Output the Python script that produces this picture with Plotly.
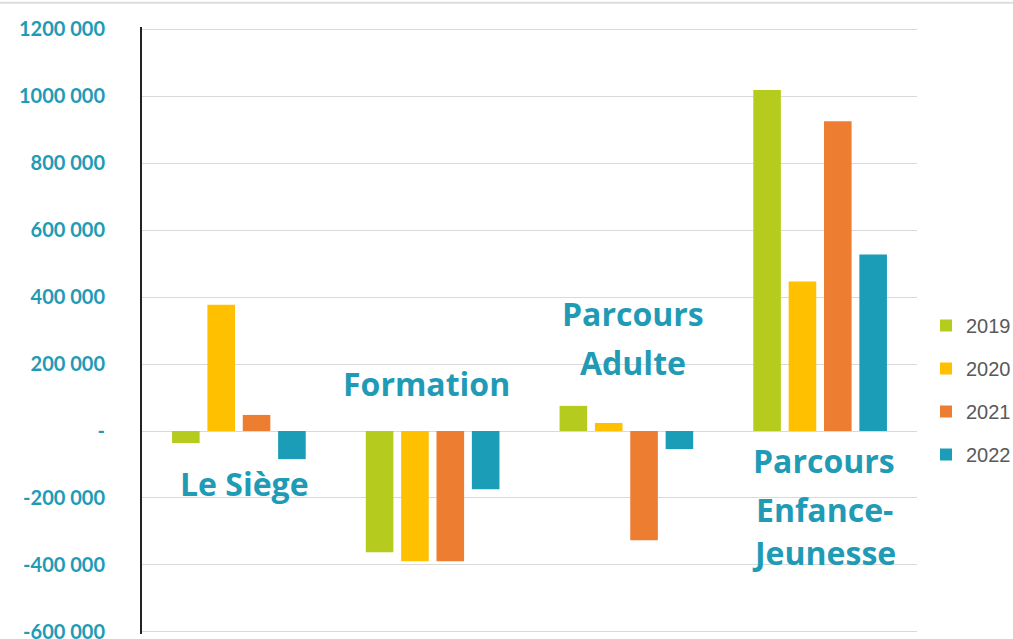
import plotly.graph_objects as go

categories = ["Le Siège", "Formation", "Parcours Adulte", "Parcours Enfance-Jeunesse"]
years = ["2019", "2020", "2021", "2022"]
values_2019 = [-36000, -362000, 75000, 1018000]
values_2020 = [377000, -389000, 24000, 446000]
values_2021 = [48000, -389000, -326000, 925000]
values_2022 = [-84000, -174000, -54000, 527000]
colors = ["#B5CC1F", "#FFC000", "#ED7D31", "#1B9CB7"]

tick_vals = [-600000, -400000, -200000, 0, 200000, 400000, 600000, 800000, 1000000, 1200000]
tick_text = ["-600 000", "-400 000", "-200 000", "-", "200 000", "400 000", "600 000", "800 000", "1000 000", "1200 000"]

# category label lines: (category, line text, y value)
label_lines = [
    ("Le Siège", "Le Siège", -156000),
    ("Formation", "Formation", 141000),
    ("Parcours Adulte", "Parcours", 350000),
    ("Parcours Adulte", "Adulte", 204000),
    ("Parcours Enfance-Jeunesse", "Parcours", -87000),
    ("Parcours Enfance-Jeunesse", "Enfance-", -234000),
    ("Parcours Enfance-Jeunesse", "Jeunesse", -362000),
]
label_xshift = {"Le Siège": 6, "Formation": -6, "Parcours Adulte": 7, "Parcours Enfance-Jeunesse": 4}

teal = "#1F9BB6"

fig = go.Figure()
series = [values_2019, values_2020, values_2021, values_2022]
for i, (yr, vals) in enumerate(zip(years, series)):
    fig.add_trace(go.Bar(
        x=categories, y=vals, name=yr,
        marker=dict(color=colors[i], line=dict(width=0)),
        legendgroup=yr,
    ))

for cat, txt, yv in label_lines:
    fig.add_annotation(
        x=cat, y=yv, xref="x", yref="y", text="<b>" + txt + "</b>",
        showarrow=False, xshift=label_xshift[cat],
        font=dict(family="Open Sans", size=32, color=teal),
        align="center",
    )

fig.add_shape(type="line", xref="paper", yref="paper", x0=-0.2, x1=1.2, y0=1.04, y1=1.04,
              line=dict(color="#dddddd", width=2))

fig.update_layout(
    width=1013, height=639,
    paper_bgcolor="white", plot_bgcolor="white",
    margin=dict(l=142, r=96, t=27, b=5, autoexpand=False),
    barmode="group", bargap=0.27, bargroupgap=0.22,
    showlegend=True,
    legend=dict(
        xref="container", yref="container", x=926 / 1013, y=1 - 306 / 639,
        xanchor="left", yanchor="top",
        font=dict(family="Liberation Sans", size=20, color="#595959"),
        tracegroupgap=14, itemwidth=30,
    ),
    xaxis=dict(showticklabels=False, showgrid=False, zeroline=False, showline=False,
               automargin=False),
    yaxis=dict(
        range=[-606000, 1206000], tickvals=tick_vals, ticktext=tick_text,
        tickfont=dict(family="Lato", size=20, color=teal, weight="bold"),
        showgrid=True, gridcolor="#d9d9d9", gridwidth=1,
        zeroline=True, zerolinecolor="#d9d9d9", zerolinewidth=1,
        showline=True, linecolor="#222222", linewidth=2,
        ticks="", ticklabelstandoff=31, ticklabeloverflow="allow",
        automargin=False,
    ),
)

fig.write_html(
    "out.html",
    config={"displayModeBar": False},
    post_script="document.body.style.margin='0px';document.body.style.overflow='hidden';",
)
